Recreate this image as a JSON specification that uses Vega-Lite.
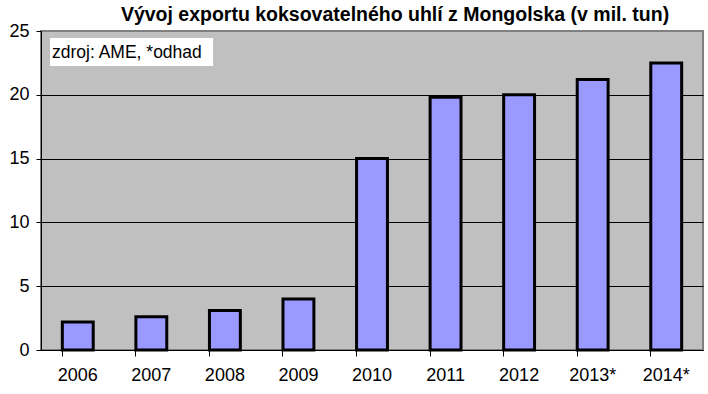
{
  "$schema": "https://vega.github.io/schema/vega-lite/v6.json",
  "width": 662,
  "height": 319,
  "autosize": {"type": "none"},
  "padding": {"left": 41, "top": 31, "right": 5, "bottom": 44},
  "background": "white",
  "title": {
    "text": "Vývoj exportu koksovatelného uhlí z Mongolska (v mil. tun)",
    "font": "Liberation Sans",
    "fontSize": 19.5,
    "fontWeight": "bold",
    "color": "black",
    "anchor": "middle",
    "dx": 23,
    "offset": -3
  },
  "config": {
    "view": {"fill": "#C0C0C0", "stroke": "#808080", "strokeWidth": 2}
  },
  "layer": [
    {
      "data": {
        "values": [
          {"year": "2006", "value": 2.2},
          {"year": "2007", "value": 2.6},
          {"year": "2008", "value": 3.1},
          {"year": "2009", "value": 4.0},
          {"year": "2010", "value": 15.0},
          {"year": "2011", "value": 19.8},
          {"year": "2012", "value": 20.0},
          {"year": "2013*", "value": 21.2},
          {"year": "2014*", "value": 22.5}
        ]
      },
      "mark": {"type": "bar", "fill": "#9999FF", "stroke": "black", "strokeWidth": 3},
      "encoding": {
        "x": {
          "field": "year",
          "type": "nominal",
          "sort": null,
          "scale": {"paddingInner": 0.58, "paddingOuter": 0.29},
          "axis": {
            "title": null,
            "bandPosition": 0,
            "labelAngle": 0,
            "tickSize": 6,
            "tickColor": "black",
            "domainColor": "black",
            "labelFont": "Liberation Sans",
            "labelFontSize": 18,
            "labelColor": "black",
            "labelPadding": 10,
            "grid": false
          }
        },
        "y": {
          "field": "value",
          "type": "quantitative",
          "title": null,
          "scale": {"domain": [0, 25], "nice": false},
          "axis": {
            "title": null,
            "values": [0, 5, 10, 15, 20, 25],
            "grid": true,
            "gridColor": {"condition": {"test": "datum.value === 25", "value": "#808080"}, "value": "black"},
            "gridOpacity": 1,
            "tickColor": "black",
            "tickSize": 5,
            "domainColor": "black",
            "labelFont": "Liberation Sans",
            "labelFontSize": 18,
            "labelColor": "black",
            "labelPadding": 7
          }
        }
      }
    },
    {
      "data": {
        "values": [
          {"x0": 0.0136, "x1": 0.26, "y0": 22.26, "y1": 24.45, "label": "zdroj: AME, *odhad", "tx": 0.0166, "ty": 23.3}
        ]
      },
      "layer": [
        {
          "mark": {"type": "rect", "fill": "white"},
          "encoding": {
            "x": {"field": "x0", "type": "quantitative", "scale": {"domain": [0, 1]}, "axis": null},
            "x2": {"field": "x1"},
            "y": {"field": "y0", "type": "quantitative", "title": null},
            "y2": {"field": "y1"}
          }
        },
        {
          "mark": {"type": "text", "align": "left", "baseline": "middle", "font": "Liberation Sans", "fontSize": 17.5, "color": "black"},
          "encoding": {
            "x": {"field": "tx", "type": "quantitative", "scale": {"domain": [0, 1]}, "axis": null},
            "y": {"field": "ty", "type": "quantitative", "title": null},
            "text": {"field": "label"}
          }
        }
      ]
    }
  ],
  "resolve": {"scale": {"x": "independent"}}
}
